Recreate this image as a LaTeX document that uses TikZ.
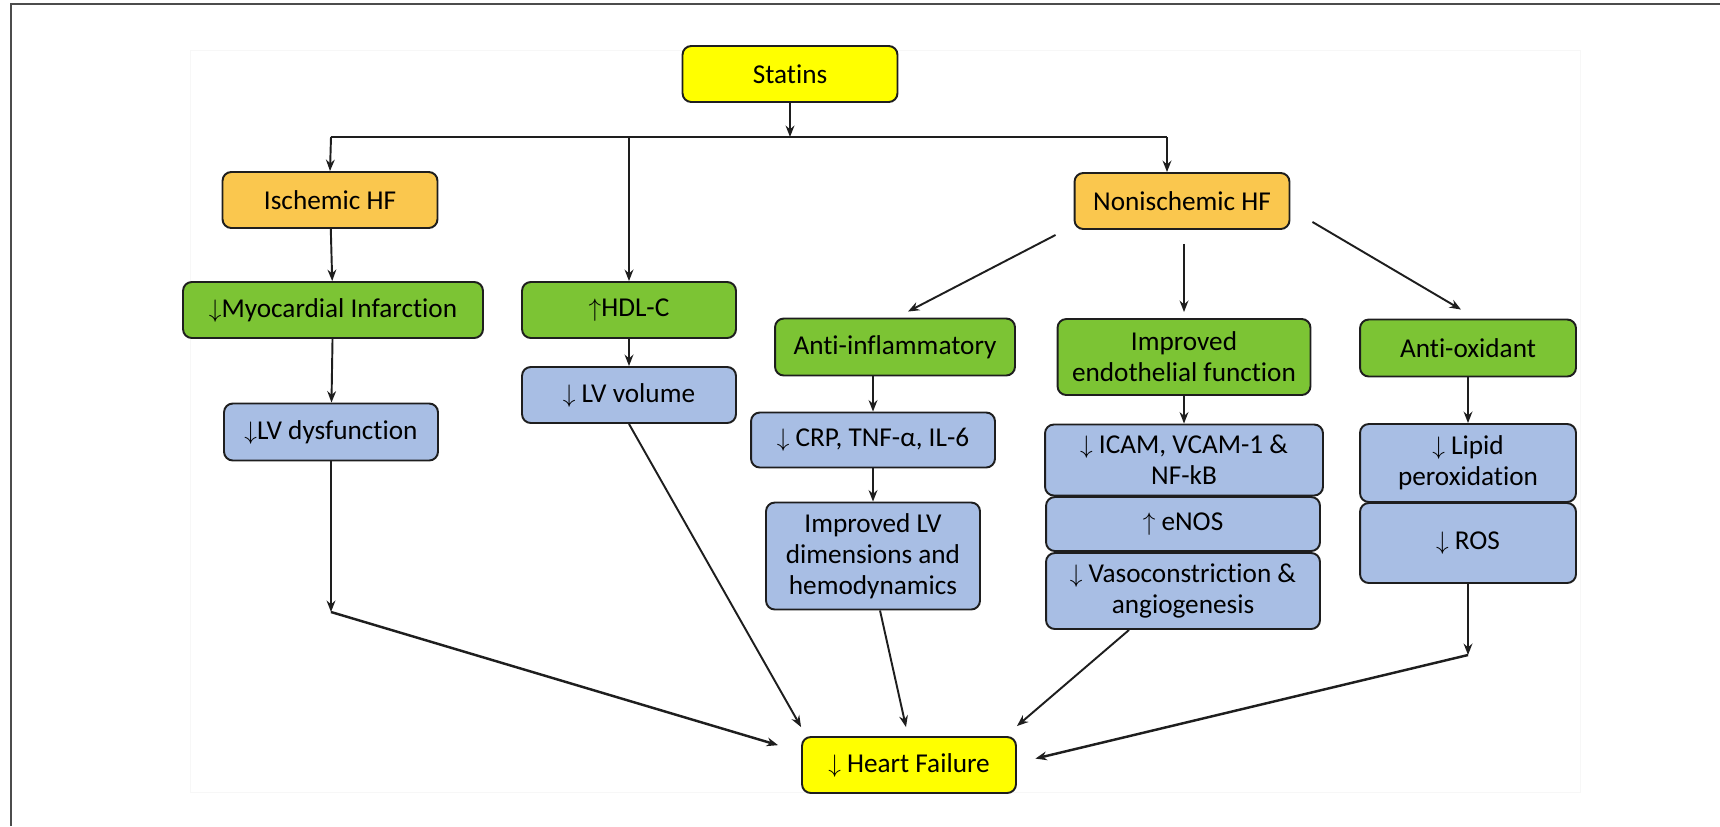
\documentclass[tikz,border=0pt]{standalone}
\usepackage{fontspec}
\setmainfont{Carlito}[Ligatures=NoCommon]
\usepackage{tikz}
\usetikzlibrary{arrows, arrows.meta, positioning, calc}
\tikzset{>={Stealth[length=6.5pt,width=5pt]}}
\definecolor{statyellow}{RGB}{255,255,0}
\definecolor{hforange}{RGB}{250,199,78}
\definecolor{effgreen}{RGB}{124,196,52}
\definecolor{outblue}{RGB}{168,190,228}
\definecolor{linegray}{RGB}{30,30,30}
\newcommand{\arrdown}{$\downarrow$}
\newcommand{\arrup}{$\uparrow$}

\begin{document}
\begin{tikzpicture}[x=0.02cm, y=-0.02cm,
    box/.style={draw=linegray, line width=1.1pt, rounded corners=5pt, align=center,
        inner sep=0pt, font=\fontsize{15.5}{17.5}\selectfont},
    yellowbox/.style={box, fill=statyellow},
    orangebox/.style={box, fill=hforange},
    greenbox/.style={box, fill=effgreen},
    bluebox/.style={box, fill=outblue},
    link/.style={->, draw=linegray, line width=1.1pt}]
    \useasboundingbox (0,0) rectangle (1720,826);
    % frame of the figure
    \draw[gray!60!black, line width=1.2pt] (11,826) -- (11,4) -- (1720,4);
    \draw[black!3, line width=0.5pt] (190,50) rectangle (1580,792);

    % nodes
    \node[yellowbox, minimum width=4.3cm, minimum height=1.12cm] (statins) at (790,74) {Statins};
    \node[orangebox, minimum width=4.3cm, minimum height=1.12cm] (isch) at (330,200) {Ischemic HF};
    \node[orangebox, minimum width=4.3cm, minimum height=1.12cm] (nonisch) at (1182,201) {Nonischemic HF};
    \node[greenbox, minimum width=6cm, minimum height=1.12cm] (mi) at (333,310) {\arrdown Myocardial Infarction};
    \node[greenbox, minimum width=4.28cm, minimum height=1.12cm] (hdl) at (629,310) {\arrup HDL-C};
    \node[bluebox, minimum width=4.28cm, minimum height=1.14cm] (lvd) at (331,432) {\arrdown LV dysfunction};
    \node[bluebox, minimum width=4.28cm, minimum height=1.12cm] (lvv) at (629,395) {\arrdown{} LV volume};
    \node[greenbox, minimum width=4.8cm, minimum height=1.14cm] (antiinf) at (895,347) {Anti-inflammatory};
    \node[greenbox, minimum width=5.06cm, minimum height=1.52cm] (endo) at (1184,357) {Improved\\endothelial function};
    \node[greenbox, minimum width=4.32cm, minimum height=1.14cm] (antiox) at (1468,348) {Anti-oxidant};
    \node[bluebox, minimum width=4.88cm, minimum height=1.1cm] (crp) at (873,440) {\arrdown{} CRP, TNF-α, IL-6};
    \node[bluebox, minimum width=4.28cm, minimum height=2.14cm] (lvdim) at (873,556) {Improved LV\\dimensions and\\hemodynamics};
    \node[bluebox, minimum width=5.56cm, minimum height=1.42cm] (icam) at (1184,460) {\arrdown{} ICAM, VCAM-1 \&\\NF-kB};
    \node[bluebox, minimum width=5.48cm, minimum height=1.08cm] (enos) at (1183,524) {\arrup{} eNOS};
    \node[bluebox, minimum width=5.48cm, minimum height=1.52cm] (vaso) at (1183,591) {\arrdown{} Vasoconstriction \&\\angiogenesis};
    \node[bluebox, minimum width=4.32cm, minimum height=1.56cm] (lipid) at (1468,463) {\arrdown{} Lipid\\peroxidation};
    \node[bluebox, minimum width=4.32cm, minimum height=1.6cm] (ros) at (1468,543) {\arrdown{} ROS};
    \node[yellowbox, minimum width=4.28cm, minimum height=1.12cm] (hf) at (909,765) {\arrdown{} Heart Failure};

    \coordinate (barL) at (331,137);
    \coordinate (barR) at (1167,137);
    \coordinate (kinkL) at (331,612);
    \coordinate (kinkR) at (1468,655);

    % statins branches
    \draw[link] (statins.south) -- (statins.south |- barL);
    \draw[draw=linegray, line width=1.6pt] (barL) -- (barR);
    \draw[link] (barL) -- (isch.north);
    \draw[link] (hdl.north |- barL) -- (hdl.north);
    \draw[link] (barR) -- (barR |- nonisch.north);

    % ischemic side
    \draw[link] (isch) -- (mi);
    \draw[link] (mi) -- (lvd);
    \draw[link] (hdl) -- (lvv);

    % nonischemic side
    \draw[link] ([shift={(-0.36cm,-0.1cm)}]nonisch.south west) -- ([shift={(0.26cm,0.12cm)}]antiinf.north);
    \draw[link, shorten <=0.28cm, shorten >=0.12cm] (endo.north |- nonisch.south) -- (endo.north);
    \draw[link] ([shift={(0.44cm,0.16cm)}]nonisch.south east) -- ([shift={(-0.14cm,0.18cm)}]antiox.north);
    \draw[link] (crp.north |- antiinf.south) -- (crp.north);
    \draw[link] (crp) -- (lvdim);
    \draw[link] (endo) -- (icam);
    \draw[link] (antiox) -- (lipid);

    % to heart failure
    \draw[link] (lvd) -- (kinkL);
    \draw[link, line width=1.4pt, shorten >=0.48cm] (kinkL) -- ([yshift=0.26cm]hf.west);
    \draw[link] (lvv.south) -- ([yshift=0.18cm]hf.north west);
    \draw[link] ([xshift=0.14cm]lvdim.south) -- ([shift={(-0.06cm,0.18cm)}]hf.north);
    \draw[link] ([xshift=-1.08cm]vaso.south) -- ([yshift=0.2cm]hf.north east);
    \draw[link] (ros) -- (kinkR);
    \draw[link, line width=1.4pt, shorten >=0.38cm] (kinkR) -- ([yshift=0.04cm]hf.east);
\end{tikzpicture}
\end{document}
